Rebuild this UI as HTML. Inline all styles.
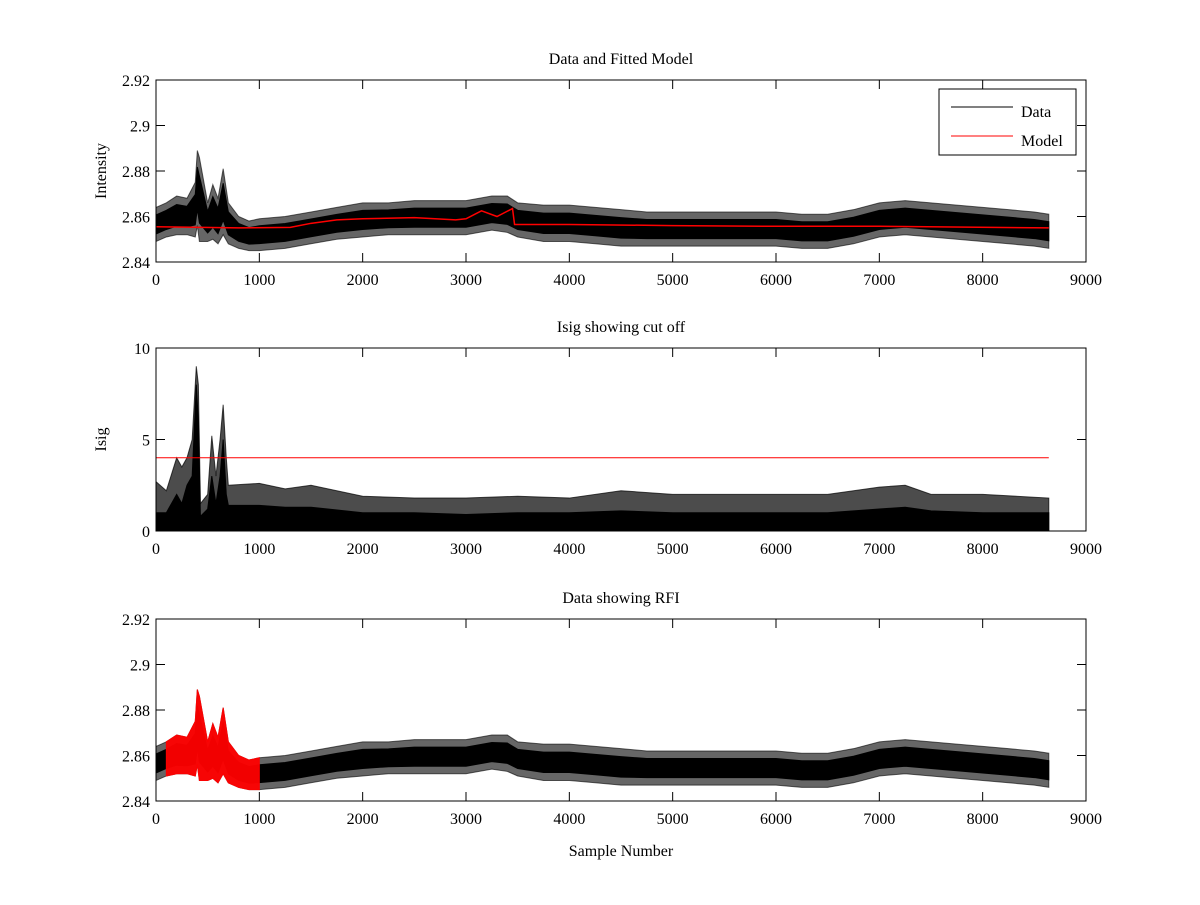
<!DOCTYPE html>
<html><head><meta charset="utf-8"><style>
body{margin:0;background:#fff}
svg text{font-family:"Liberation Serif",serif;font-size:16px;fill:#000}
</style></head><body>
<svg id="fig" width="1200" height="900" xmlns="http://www.w3.org/2000/svg"></svg>
<script>
// ---- data ----
const binX   = [0,100,200,300,380,400,420,500,550,600,650,700,800,900,1000,1250,1500,1750,2000,2250,2500,2750,3000,3250,3400,3500,3750,4000,4250,4500,4750,5000,5250,5500,5750,6000,6250,6500,6750,7000,7250,7500,7750,8000,8250,8500,8640];
const dataHi = [2.864,2.866,2.869,2.868,2.875,2.889,2.886,2.866,2.874,2.868,2.881,2.866,2.860,2.858,2.859,2.860,2.862,2.864,2.866,2.866,2.867,2.867,2.867,2.869,2.869,2.866,2.865,2.865,2.864,2.863,2.862,2.862,2.862,2.862,2.862,2.862,2.861,2.861,2.863,2.866,2.867,2.866,2.865,2.864,2.863,2.862,2.861];
const dataLo = [2.849,2.851,2.852,2.852,2.851,2.856,2.849,2.849,2.850,2.848,2.852,2.848,2.846,2.845,2.845,2.846,2.848,2.850,2.851,2.852,2.852,2.852,2.852,2.854,2.853,2.851,2.849,2.849,2.848,2.847,2.847,2.847,2.847,2.847,2.847,2.847,2.846,2.846,2.848,2.851,2.852,2.851,2.850,2.849,2.848,2.847,2.846];
const modelX = [0,800,1300,1500,1750,2000,2500,2900,3000,3150,3300,3450,3470,4000,5000,6000,7000,8640];
const modelY = [2.8555,2.8550,2.8552,2.857,2.8585,2.859,2.8595,2.8585,2.859,2.8625,2.860,2.8635,2.8565,2.8565,2.856,2.8557,2.8557,2.855];
const isigX    = [0,100,200,250,300,350,390,410,430,500,540,580,620,650,680,700,1000,1250,1500,2000,2500,3000,3500,4000,4500,5000,5500,6000,6500,7000,7250,7500,8000,8640];
const isigPeak = [2.7,2.2,4,3.5,4,5,9,8,1.5,2.0,5.2,3,5,6.9,4,2.5,2.6,2.3,2.5,1.9,1.8,1.8,1.9,1.8,2.2,2.0,2.0,2.0,2.0,2.4,2.5,2.0,2.0,1.8];
const isigDense= [1.0,1.0,2.0,1.5,2.5,3,8,6,0.8,1.2,3,1.5,3,5,2,1.4,1.4,1.3,1.3,1.0,1.0,0.9,1.0,1.0,1.1,1.0,1.0,1.0,1.0,1.2,1.3,1.1,1.0,1.0];
const cutoff = 4;
const rfiEnd = 1000, rfiStart = 50;
const xTicks = [0,1000,2000,3000,4000,5000,6000,7000,8000,9000];
const yTicksI = [2.84,2.86,2.88,2.9,2.92];
const yTicksS = [0,5,10];

const NS="http://www.w3.org/2000/svg";
const svg=document.getElementById('fig');
function mk(tag,attrs,parent){const e=document.createElementNS(NS,tag);for(const k in attrs)e.setAttribute(k,attrs[k]);(parent||svg).appendChild(e);return e;}
const X0=156,X1=1086;
function sx(v){return X0+(v/9000)*(X1-X0);}
function axes(name,top,bot,ymin,ymax,yt,fmt,title,ylabel,xlabel){
  const g=mk('g',{});
  
  
  const sy=v=>bot-(v-ymin)/(ymax-ymin)*(bot-top);
  xTicks.forEach(t=>{const x=sx(t);
    mk('line',{x1:x,x2:x,y1:bot,y2:bot-9,stroke:'#000'},g);
    mk('line',{x1:x,x2:x,y1:top,y2:top+9,stroke:'#000'},g);
    const tx=mk('text',{x:x,y:bot+23,'text-anchor':'middle'},g);tx.textContent=t;
    
    });
  yt.forEach(t=>{const y=sy(t);
    mk('line',{x1:X0,x2:X0+9,y1:y,y2:y,stroke:'#000'},g);
    mk('line',{x1:X1,x2:X1-9,y1:y,y2:y,stroke:'#000'},g);
    const tx=mk('text',{x:X0-6,y:y+6,'text-anchor':'end'},g);tx.textContent=fmt(t);
    
    });
  const tt=mk('text',{x:(X0+X1)/2,y:top-16,'text-anchor':'middle'},g);tt.textContent=title;
  
  
  if(ylabel){const yl=mk('text',{x:0,y:0,'text-anchor':'middle',transform:`translate(${X0-50},${(top+bot)/2}) rotate(-90)`},g);yl.textContent=ylabel;
    
    }
  if(xlabel){const xl=mk('text',{x:(X0+X1)/2,y:bot+55,'text-anchor':'middle'},g);xl.textContent=xlabel;
    
    }
  return {g,sy,top,bot};
}
function band(ax,xs,lo,hi,color,op,from,to,shrink){
  shrink=shrink||0;
  const idx=xs.map((v,i)=>i).filter(i=>xs[i]>=from&&xs[i]<=to);
  const h=i=>hi[i]-(hi[i]-lo[i])*shrink, l=i=>lo[i]+(hi[i]-lo[i])*shrink;
  let p=idx.map(i=>sx(xs[i])+','+ax.sy(h(i))).concat(idx.slice().reverse().map(i=>sx(xs[i])+','+ax.sy(l(i))));
  return mk('polygon',{points:p.join(' '),fill:color,'fill-opacity':op,stroke:color,'stroke-opacity':op,'stroke-width':1},ax.g);
}
function box(ax){mk('rect',{x:X0,y:ax.top,width:X1-X0,height:ax.bot-ax.top,fill:'none',stroke:'#000'},ax.g);}
const f2=t=>String(+t.toFixed(2));

// subplot 1
const a1=axes('data-fitted-model-plot',80,262,2.84,2.92,yTicksI,f2,'Data and Fitted Model','Intensity');
const d1o=band(a1,binX,dataLo,dataHi,'#000',0.6,0,9000);


const d1=band(a1,binX,dataLo,dataHi,'#000',1,0,9000,0.22);


const m1=mk('polyline',{points:modelX.map((x,i)=>sx(x)+','+a1.sy(modelY[i])).join(' '),fill:'none',stroke:'#f00','stroke-width':1.5},a1.g);


box(a1);
const lg=mk('g',{},a1.g);


mk('rect',{x:939,y:89,width:137,height:66,fill:'#fff',stroke:'#000'},lg);
mk('line',{x1:951,x2:1013,y1:107,y2:107,stroke:'#000'},lg);
mk('line',{x1:951,x2:1013,y1:136,y2:136,stroke:'#f00'},lg);
let t=mk('text',{x:1021,y:117},lg);t.textContent='Data';


t=mk('text',{x:1021,y:146},lg);t.textContent='Model';



// subplot 2
const a2=axes('isig-plot',348,531,0,10,yTicksS,v=>v,'Isig showing cut off','Isig');
const zeros=isigX.map(()=>0);
const p2=band(a2,isigX,zeros,isigPeak,'#000',0.7,0,9000);


const d2=band(a2,isigX,zeros,isigDense,'#000',1,0,9000);


const c2=mk('line',{x1:sx(0),x2:sx(8640),y1:a2.sy(cutoff),y2:a2.sy(cutoff),stroke:'#f00'},a2.g);


box(a2);

// subplot 3
const a3=axes('rfi-plot',619,801,2.84,2.92,yTicksI,f2,'Data showing RFI',null,'Sample Number');
const d3o=band(a3,binX,dataLo,dataHi,'#000',0.6,0,9000);


const d3=band(a3,binX,dataLo,dataHi,'#000',1,0,9000,0.22);


const r3=band(a3,binX,dataLo,dataHi,'#f00',0.95,rfiStart,rfiEnd);


box(a3);
</script>
</body></html>
